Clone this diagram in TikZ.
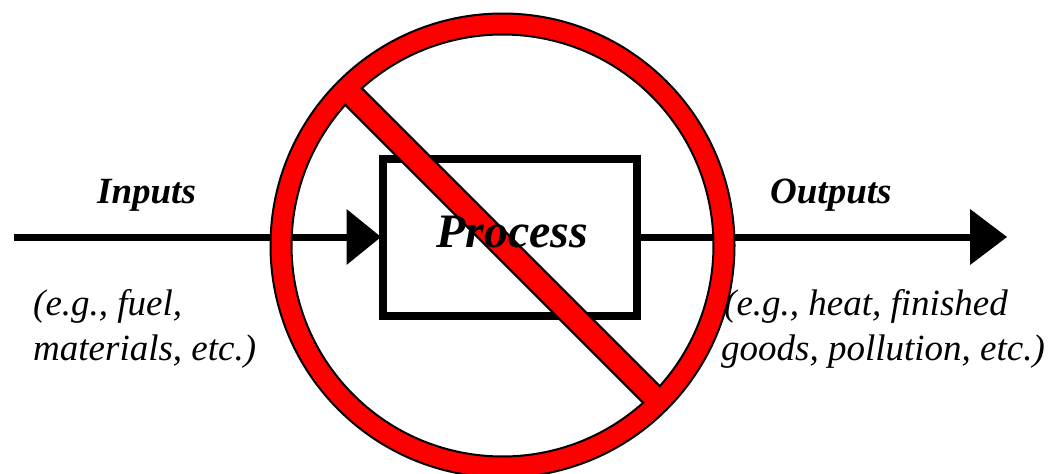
\documentclass[tikz,border=0pt]{standalone}
\usepackage{fontspec}
\setmainfont{Liberation Serif}
\tikzset{
 thick line/.style={line width=7pt,draw=black},
 tip/.style={fill=black,draw=none},
 lbl/.style={font=\fontsize{37}{44}\selectfont\itshape,inner sep=0pt,anchor=base west,align=left},
 blbl/.style={font=\fontsize{37}{44}\selectfont\bfseries\itshape,inner sep=0pt,anchor=base west},
 plbl/.style={font=\fontsize{48}{56}\selectfont\bfseries\itshape,inner sep=0pt,anchor=base west},
}
\begin{document}
\begin{tikzpicture}[x=1pt,y=-1pt]
\useasboundingbox (0,0) rectangle (1050,474);
\fill[white] (0,0) rectangle (1050,474);
\coordinate (inS) at (14,237);
\coordinate (inE) at (350,237);
\coordinate (outE) at (975,237);
\node[draw=black,line width=8pt,fill=white,minimum width=254pt,minimum height=157pt,inner sep=0pt,outer sep=0pt] (proc) at (510.3,237) {};
\draw[thick line] (inS) -- (inE);
\fill[tip] (346.5,209) -- (381,237) -- (346.5,265) -- cycle;
\draw[thick line] (proc.east) -- (outE);
\fill[tip] (970,209) -- (1007,237) -- (970,265) -- cycle;
\node[blbl] (inp) at (97,203.5) {Inputs};
\node[blbl] (outp) at (770,203.5) {Outputs};
\node[lbl] (l1) at (33,315) {(e.g., fuel,};
\node[lbl] (l2) at (33,360) {materials, etc.)};
\node[lbl] (r1) at (724,315) {(e.g., heat, finished};
\node[lbl] (r2) at (721,360) {goods, pollution, etc.)};
% prohibition sign: ring and bar as one shape with two holes
\path[fill=red,draw=black,line width=2pt,even odd rule]
 (502.5,245.5) circle[radius=232]
 ([shift={(228.2:211)}]502.5,245.5) arc[start angle=228.2,end angle=401.8,radius=211] -- cycle
 ([shift={(48.2:211)}]502.5,245.5) arc[start angle=48.2,end angle=221.8,radius=211] -- cycle;
\node[plbl] (ptext) at (436,247) {Process};
\end{tikzpicture}
\end{document}
